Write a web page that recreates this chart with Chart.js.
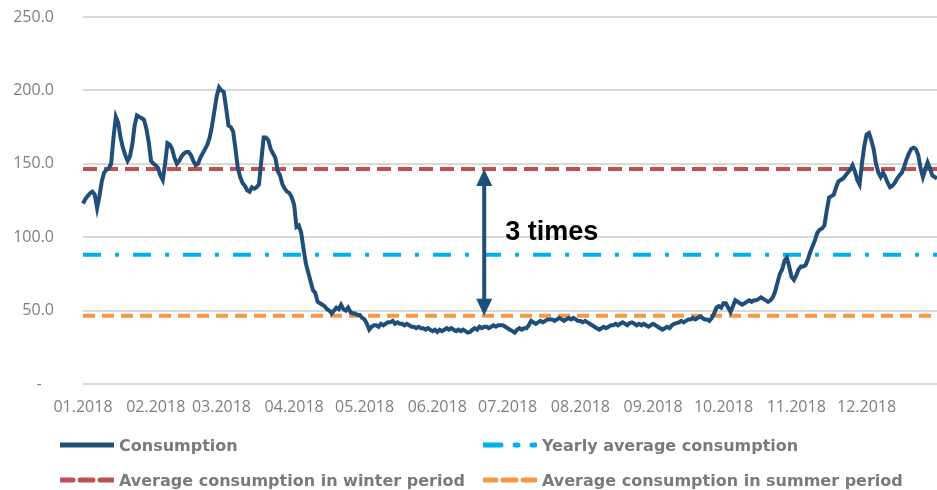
<!DOCTYPE html>
<html>
<head>
<meta charset="utf-8">
<script src="https://cdn.jsdelivr.net/npm/chart.js@4"></script>
<style>
  html, body { margin: 0; padding: 0; background: #fff; }
  #wrap { position: relative; width: 937px; height: 490px; }
  #wrap canvas { position: absolute; left: 0; top: 0; }
  #legend { position: absolute; left: 0; top: 0; width: 937px; height: 490px; pointer-events: none;
            font-family: "DejaVu Sans", Verdana, sans-serif; font-size: 16px; font-weight: bold; color: #7a7a7a; }
  .item { position: absolute; display: flex; align-items: center; white-space: nowrap; }
  .item svg { margin-right: 5px; }
</style>
</head>
<body>
<div id="wrap">
  <canvas id="c" width="937" height="490"></canvas>
  <div id="legend"></div>
</div>
<script>
// ---- data ----
const monthLabels = ['01.2018','02.2018','03.2018','04.2018','05.2018','06.2018',
                     '07.2018','08.2018','09.2018','10.2018','11.2018','12.2018'];
const yTickLabels = { 0: '-', 50: '50.0', 100: '100.0', 150: '150.0', 200: '200.0', 250: '250.0' };

// daily consumption per month
const jan = [123,126,128,130,131,129,120,128,138,144,146,147,150,168,182,178,168,161,156,152,155,163,176,183,182,181,180,174,165,152,150];
const feb = [149,147,142,139,150,164,163,160,154,150,152,155,157,158,158,156,152,149,150,154,157,160,163,168,176,186,196,202];
const mar = [200,199,188,176,175,172,160,147,141,137,135,132,131,134,133,134,136,152,168,168,166,160,157,154,145,142,136,133,131,130,127];
const apr = [122,107,108,103,92,82,76,70,64,62,56,55,54,53,51,50,48,50,52,51,54,51,50,52,49,48,48,47,47,45];
const may = [44,41,37,39,40,40,39,41,40,41,42,42,43,41,42,41,41,40,41,40,39,39,38,39,38,38,37,38,37,36,37];
const jun = [35.5,37,36,37,38,37,38,37,36,37,36,37,36,35,35.5,37,38,37,39,38,39,39,38,39,40,39,40,40,40,39];
const jul = [38,37,36,35,37,38,37,38,38,40,43,42,41,42,43,42,43,44,44,44,43,44,45,44,43,44,45,44,45,44,43];
const aug = [43,42,43,42,41,40,39,38,37,38,39,38,39,40,40,41,40,41,42,41,40,41.5,42,41,40,41,40,41,40,39,40];
const sep = [41,40,39,38,37,38,39,38,40,41,41.5,42,43,42,43,44,44,45,44,45,46,45,44,44,43,45,48,52,53,52];
const oct = [55,55,52,49,53,57,56,55,54,55,56,57,56,57,57,58,59,58,57,56,57,59,63,69,75,78,84,86,80,73,71];
const nov = [74,78,80,80,81,85,90,94,98,103,105,106,108,118,127,128,129,134,138,139,140,142,144,146,149,145,139,136,150,162];
const dec = [170,171,166,160,150,144,141,144,141,137,134,135,137,140,142,144,148,153,157,160,161,160,156,147,141,146,151,147,142,141,140];

const yearlyAverage = 88;
const winterAverage = 146.5;
const summerAverage = 46.5;

const annotationText = '3 times';
const annotationDay = 171;   // day index where the arrow sits
const annotationTextDay = 180;
const annotationTextValue = 103;

// ---- build tables ----
const months = [jan, feb, mar, apr, may, jun, jul, aug, sep, oct, nov, dec];
const consumption = [];
const labels = [];
months.forEach((m, mi) => {
  m.forEach((v, di) => {
    consumption.push(v);
    labels.push(di === 0 ? monthLabels[mi] : '');
  });
});
const flat = v => labels.map(() => v);

const arrowPlugin = {
  id: 'arrow',
  afterDatasetsDraw(chart) {
    const { ctx, scales: { x, y } } = chart;
    const px = x.getPixelForValue(annotationDay);
    const yTop = y.getPixelForValue(winterAverage);
    const yBot = y.getPixelForValue(summerAverage);
    const head = 17, half = 8;
    ctx.save();
    ctx.strokeStyle = '#1F4E79';
    ctx.fillStyle = '#1F4E79';
    ctx.lineWidth = 4;
    ctx.beginPath();
    ctx.moveTo(px, yTop + head - 2);
    ctx.lineTo(px, yBot - head + 2);
    ctx.stroke();
    ctx.beginPath();
    ctx.moveTo(px, yTop); ctx.lineTo(px - half, yTop + head); ctx.lineTo(px + half, yTop + head); ctx.closePath();
    ctx.fill();
    ctx.beginPath();
    ctx.moveTo(px, yBot); ctx.lineTo(px - half, yBot - head); ctx.lineTo(px + half, yBot - head); ctx.closePath();
    ctx.fill();
    ctx.fillStyle = '#000000';
    ctx.font = 'bold 27px "Liberation Sans", Arial, sans-serif';
    ctx.textBaseline = 'middle';
    ctx.textAlign = 'left';
    ctx.fillText(annotationText, x.getPixelForValue(annotationTextDay), y.getPixelForValue(annotationTextValue));
    ctx.restore();
  }
};

const chart = new Chart(document.getElementById('c'), {
  type: 'line',
  data: {
    labels: labels,
    datasets: [
      { label: 'Consumption', data: consumption, borderColor: '#1F4E79', borderWidth: 4,
        pointRadius: 0, tension: 0, order: 0 },
      { label: 'Yearly average consumption', data: flat(yearlyAverage), borderColor: '#00B0F0', borderWidth: 4,
        borderDash: [18, 14, 4, 14], pointRadius: 0, order: 3 },
      { label: 'Average consumption in winter period', data: flat(winterAverage), borderColor: '#C0504D', borderWidth: 4,
        borderDash: [14, 7], pointRadius: 0, order: 2 },
      { label: 'Average consumption in summer period', data: flat(summerAverage), borderColor: '#F79646', borderWidth: 4,
        borderDash: [12, 7], pointRadius: 0, order: 1 }
    ]
  },
  options: {
    responsive: false,
    animation: false,
    layout: { padding: { left: 0, right: 0, top: 17, bottom: 66 } },
    plugins: { legend: { display: false }, tooltip: { enabled: false } },
    scales: {
      x: {
        grid: { display: false, drawTicks: false },
        border: { display: false },
        afterFit: s => { s.paddingLeft = 0; s.paddingRight = 0; s.height = 40; },
        ticks: { autoSkip: false, maxRotation: 0, minRotation: 0, padding: 14,
                 color: '#7f7f7f', font: { family: '"Open Sans", sans-serif', size: 16 },
                 callback: function (v) { const l = this.getLabelForValue(v); return l === '' ? null : l; } }
      },
      y: {
        min: 0, max: 250,
        grid: { color: '#D9D9D9', lineWidth: 2, drawTicks: false },
        border: { display: false },
        afterFit: s => { s.paddingTop = 0; s.paddingBottom = 0; s.width = 83; },
        ticks: { stepSize: 50, padding: 29, color: '#7f7f7f',
                 font: { family: '"Open Sans", sans-serif', size: 16 },
                 callback: v => yTickLabels[v] === '-' ? '-   ' : yTickLabels[v] }
      }
    }
  },
  plugins: [arrowPlugin]
});

// ---- HTML legend built from datasets ----
const legendPos = [
  { left: 60, top: 434 }, { left: 483, top: 434 },
  { left: 60, top: 469 }, { left: 483, top: 469 }
];
const legendDash = ['', '18 14 3 14 3', '13 7', '13 7'];
const legendOrder = [0, 1, 2, 3];
const legendEl = document.getElementById('legend');
legendOrder.forEach((di, i) => {
  const ds = chart.data.datasets[di];
  const item = document.createElement('div');
  item.className = 'item';
  item.style.left = legendPos[i].left + 'px';
  item.style.top = legendPos[i].top + 'px';
  item.innerHTML = '<svg width="54" height="22"><line x1="0" y1="11" x2="54" y2="11" stroke="' + ds.borderColor +
    '" stroke-width="5" stroke-linecap="round"' + (legendDash[i] ? ' stroke-dasharray="' + legendDash[i] + '"' : '') +
    '/></svg><span></span>';
  item.querySelector('span').textContent = ds.label;
  legendEl.appendChild(item);
});
</script>
</body>
</html>
